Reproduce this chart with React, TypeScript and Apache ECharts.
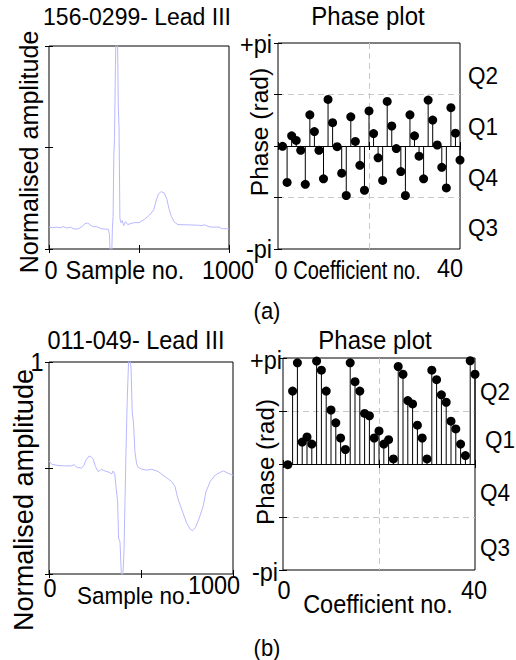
import React, { useEffect, useRef } from "react";
import * as echarts from "echarts";

// ---------- data ----------
const ecgASample = [0, 20, 40, 60, 80, 100, 120, 140, 165, 185, 200, 215, 230, 245, 265, 290, 315, 330, 336, 341, 348, 352, 356, 360, 364, 369, 373, 380, 385, 389, 394, 400, 407, 415, 425, 438, 455, 475, 500, 530, 558, 582, 596, 608, 622, 640, 655, 666, 680, 694, 716, 770, 830, 850, 860, 875, 895, 945, 960, 970, 1000];
const ecgAValue = [0.108, 0.105, 0.108, 0.105, 0.11, 0.103, 0.107, 0.098, 0.1, 0.112, 0.125, 0.128, 0.118, 0.11, 0.11, 0.1, 0.098, 0.097, 0.07, -0.05, -0.05, 0.1, 0.16, 0.45, 0.55, 0.9, 1.1, 1.1, 0.7, 0.6, 0.15, 0.13, 0.14, 0.115, 0.135, 0.12, 0.126, 0.13, 0.13, 0.146, 0.167, 0.193, 0.24, 0.27, 0.283, 0.276, 0.245, 0.2, 0.16, 0.135, 0.12, 0.119, 0.117, 0.115, 0.119, 0.115, 0.108, 0.108, 0.1, 0.1, 0.1];

const ecgBSample = [0, 16, 49, 85, 122, 136, 149, 177, 191, 198, 218, 230, 240, 253, 267, 286, 304, 326, 340, 349, 358, 365, 373, 378, 386, 391, 395, 400, 407, 413, 418, 425, 433, 440, 446, 452, 460, 467, 476, 485, 504, 531, 558, 594, 631, 667, 685, 700, 722, 749, 767, 780, 795, 813, 837, 853, 876, 904, 931, 949, 973, 1000];
const ecgBValue = [0.533, 0.517, 0.512, 0.51, 0.51, 0.516, 0.505, 0.499, 0.514, 0.533, 0.557, 0.552, 0.542, 0.506, 0.483, 0.494, 0.486, 0.48, 0.472, 0.486, 0.467, 0.404, 0.341, 0.17, 0.15, 0.04, -0.03, -0.03, 0.09, 0.341, 0.561, 0.813, 1.02, 1.02, 0.97, 0.77, 0.703, 0.577, 0.52, 0.503, 0.494, 0.49, 0.494, 0.483, 0.459, 0.436, 0.412, 0.357, 0.302, 0.239, 0.212, 0.204, 0.218, 0.255, 0.317, 0.388, 0.436, 0.467, 0.48, 0.486, 0.475, 0.465];

const coeffNo = [1, 2, 3, 4, 5, 6, 7, 8, 9, 10, 11, 12, 13, 14, 15, 16, 17, 18, 19, 20, 21, 22, 23, 24, 25, 26, 27, 28, 29, 30, 31, 32, 33, 34, 35, 36, 37, 38, 39, 40];
const phaseA = [-0.01, -1.11, 0.31, 0.17, -0.13, -1.17, 0.95, 0.44, -0.13, -1.0, 1.42, 0.71, -0.02, -0.83, -1.51, 0.89, 0.14, -0.59, -1.35, 1.07, 0.38, -0.36, -1.05, 1.36, 0.61, -0.08, -0.78, -1.51, 0.95, 0.31, -0.31, -1.0, 1.4, 0.79, 0.03, -0.65, -1.28, 1.17, 0.39, -0.43];
const phaseB = [-0.02, 2.16, 3.0, 0.65, 0.8, 0.59, 3.05, 2.78, 2.16, 1.6, 1.22, 0.77, 0.43, 3.0, 2.44, 2.16, 1.5, 1.43, 0.77, 0.98, 0.59, 0.72, 0.15, 2.89, 2.66, 1.88, 1.78, 1.15, 0.77, 0.15, 2.78, 2.5, 2.05, 1.83, 1.27, 1.04, 0.59, 0.25, 3.06, 2.66];

const ecgTitles = ["156-0299- Lead III", "011-049- Lead III"];
const phaseTitle = "Phase plot";
const ampLabel = "Normalised amplitude";
const phaseLabel = "Phase (rad)";
const sampleLabel = "Sample no.";
const coeffLabel = "Coefficient no.";
const sampleTicks = ["0", "1000"];
const coeffTicks = ["0", "40"];
const phaseTicks = ["+pi", "-pi"];
const quadrants = ["Q2", "Q1", "Q4", "Q3"];
const panelTags = ["(a)", "(b)"];

const FONT = "Liberation Sans, Arial, Helvetica, sans-serif";
const ECG_COLOR = "#b8b8ff";

function zip(xs: number[], ys: number[]) {
  return xs.map((x, i) => [x, ys[i]]);
}

function txt(text: string, x: number, y: number, size: number, opts: any = {}) {
  const rotated = !!opts.rotation;
  const stretch = opts.stretch || 1.08;
  return {
    type: "text",
    x,
    y,
    rotation: opts.rotation || 0,
    scaleX: rotated ? stretch * 0.93 : 1,
    scaleY: rotated ? 1 : stretch,
    silent: true,
    style: {
      text,
      fill: "#000",
      fontSize: size,
      fontFamily: FONT,
      textAlign: opts.align || "center",
      textVerticalAlign: "middle",
    },
  };
}

function xAx(gi: number, pos: string, min: number, max: number, interval: number, split: boolean) {
  return {
    type: "value",
    gridIndex: gi,
    position: pos,
    min,
    max,
    interval,
    axisLine: { show: false },
    axisTick: { show: true, inside: true, length: 4, lineStyle: { color: "#000", width: 1 } },
    axisLabel: { show: false },
    splitLine: {
      show: split,
      showMinLine: false,
      showMaxLine: false,
      lineStyle: { color: "#c8c8c8", type: [6, 4], width: 1 },
    },
  };
}

export default function App() {
  const ref = useRef<HTMLDivElement>(null);

  useEffect(() => {
    if (!ref.current) return;
    const chart = echarts.init(ref.current, undefined, { renderer: "svg" });

    const grids = [
      { left: 49, top: 46, width: 180, height: 203 },
      { left: 278, top: 43, width: 182, height: 206 },
      { left: 49, top: 362, width: 184, height: 212 },
      { left: 283, top: 358, width: 192, height: 212 },
    ].map((g) => ({ ...g, show: true, borderColor: "#000", borderWidth: 1, backgroundColor: "transparent" }));

    const PI = Math.PI;
    const xAxis: any[] = [];
    const yAxis: any[] = [];
    // grid 0: ECG a
    xAxis.push(xAx(0, "bottom", 0, 1000, 500, false), xAx(0, "top", 0, 1000, 500, false));
    yAxis.push(xAx(0, "left", 0, 1, 0.5, false), xAx(0, "right", 0, 1, 0.5, false));
    // grid 1: phase a
    xAxis.push(xAx(1, "bottom", 0, 40, 20, true), xAx(1, "top", 0, 40, 20, false));
    yAxis.push(xAx(1, "left", -PI, PI, PI / 2, true), xAx(1, "right", -PI, PI, PI / 2, false));
    // grid 2: ECG b
    xAxis.push(xAx(2, "bottom", 0, 1000, 500, false), xAx(2, "top", 0, 1000, 500, false));
    yAxis.push(xAx(2, "left", 0, 1, 0.5, false), xAx(2, "right", 0, 1, 0.5, false));
    // grid 3: phase b
    xAxis.push(xAx(3, "bottom", 0, 40, 20, true), xAx(3, "top", 0, 40, 20, false));
    yAxis.push(xAx(3, "left", -PI, PI, PI / 2, true), xAx(3, "right", -PI, PI, PI / 2, false));

    const stem = (axisIdx: number, values: number[]) => [
      {
        type: "bar",
        xAxisIndex: axisIdx,
        yAxisIndex: axisIdx,
        data: zip(coeffNo, values),
        barWidth: 1,
        itemStyle: { color: "#000" },
        silent: true,
        markLine: {
          silent: true,
          symbol: ["none", "none"],
          label: { show: false },
          lineStyle: { color: "#000", type: "solid", width: 1 },
          data: [{ yAxis: 0 }],
        },
      },
      {
        type: "scatter",
        xAxisIndex: axisIdx,
        yAxisIndex: axisIdx,
        data: zip(coeffNo, values),
        symbolSize: 9,
        itemStyle: { color: "#000", opacity: 1 },
        silent: true,
        z: 5,
      },
    ];

    const series: any[] = [
      {
        type: "line",
        xAxisIndex: 0,
        yAxisIndex: 0,
        data: zip(ecgASample, ecgAValue),
        showSymbol: false,
        clip: true,
        lineStyle: { color: ECG_COLOR, width: 1 },
        silent: true,
      },
      ...stem(2, phaseA),
      {
        type: "line",
        xAxisIndex: 4,
        yAxisIndex: 4,
        data: zip(ecgBSample, ecgBValue),
        showSymbol: false,
        clip: true,
        lineStyle: { color: ECG_COLOR, width: 1 },
        silent: true,
      },
      ...stem(6, phaseB),
    ];

    const graphic: any[] = [
      // panel (a)
      txt(ecgTitles[0], 137, 16, 23),
      txt(phaseTitle, 368, 16, 24),
      txt(ampLabel, 29, 152, 25, { rotation: PI / 2 }),
      txt(sampleTicks[0], 51, 270, 23.5),
      txt(sampleLabel, 125, 270, 23.5),
      txt(sampleTicks[1], 228, 270, 23.5),
      txt(phaseTicks[0], 272, 44, 23.5, { align: "right" }),
      txt(phaseTicks[1], 272, 249, 23.5, { align: "right" }),
      txt(phaseLabel, 260, 132, 24.5, { rotation: PI / 2 }),
      txt(quadrants[0], 468, 76, 22.5, { align: "left" }),
      txt(quadrants[1], 468, 127, 22.5, { align: "left" }),
      txt(quadrants[2], 468, 178, 22.5, { align: "left" }),
      txt(quadrants[3], 468, 228, 22.5, { align: "left" }),
      txt(coeffTicks[0], 281, 270, 23.5),
      txt(coeffLabel, 357, 271, 20, { stretch: 1.25 }),
      txt(coeffTicks[1], 450, 268, 23.5),
      txt(panelTags[0], 267, 311, 22),
      // panel (b)
      txt(ecgTitles[1], 136, 340, 23.5),
      txt(phaseTitle, 375, 340, 24),
      txt("1", 37, 362, 23.5),
      txt(ampLabel, 24, 500, 27, { rotation: PI / 2 }),
      txt(sampleTicks[0], 50, 588, 23.5),
      txt(sampleLabel, 134, 596, 22.5),
      txt(sampleTicks[1], 214, 585, 23.5),
      txt(phaseTicks[0], 282, 360, 23.5, { align: "right" }),
      txt(phaseTicks[1], 278, 572, 23.5, { align: "right" }),
      txt(phaseLabel, 266, 462, 24, { rotation: PI / 2 }),
      txt(quadrants[0], 480, 392, 22.5, { align: "left" }),
      txt(quadrants[1], 485, 440, 22.5, { align: "left" }),
      txt(quadrants[2], 480, 493, 22.5, { align: "left" }),
      txt(quadrants[3], 480, 548, 22.5, { align: "left" }),
      txt(coeffTicks[0], 284, 590, 23.5),
      txt(coeffLabel, 378, 604, 23.5),
      txt(coeffTicks[1], 474, 590, 23.5),
      txt(panelTags[1], 267, 648, 22),
    ];

    chart.setOption({
      animation: false,
      backgroundColor: "#fff",
      grid: grids,
      xAxis,
      yAxis,
      series,
      graphic,
    });

    return () => chart.dispose();
  }, []);

  return (
    <div
      ref={ref}
      style={{ position: "absolute", left: 0, top: 0, width: 516, height: 660 }}
    />
  );
}
